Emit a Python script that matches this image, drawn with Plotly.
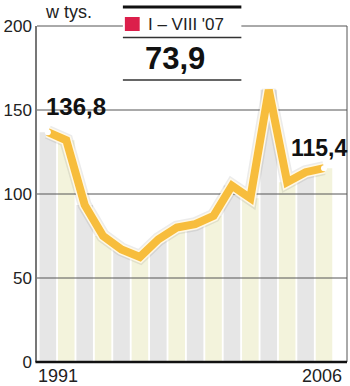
import plotly.graph_objects as go

years = list(range(1991, 2007))
values = [136.8, 132, 93.5, 75, 67, 62.5, 73, 80, 82, 87, 105, 97.5, 162, 107, 113, 115.4]
y_ticks = [0, 50, 100, 150, 200]
first_label = "136,8"
last_label = "115,4"
legend_label = "I – VIII '07"
legend_value = "73,9"
unit_label = "w tys."

W, H = 350, 386
L, R, T, B = 33, 3, 26, 24
PW, PH = W - L - R, H - T - B

def px(x):
    return (x - L) / PW

def py(y):
    return (H - B - y) / PH

idx = list(range(len(years)))
bar_colors = ["#e6e6e6" if i % 2 == 0 else "#f3f3dc" for i in idx]
xr = [-0.59, 16.25]

FONT = "Liberation Sans"
fig = go.Figure()
fig.add_trace(go.Bar(x=idx, y=values, marker=dict(color=bar_colors, line=dict(width=0)),
                     width=0.9, hoverinfo="skip"))
for v in y_ticks[1:-1]:
    fig.add_trace(go.Scatter(x=xr, y=[v, v], mode="lines",
                             line=dict(color="#555555", width=1), hoverinfo="skip"))
# shadow
fig.add_trace(go.Scatter(x=idx, y=values, mode="lines",
                         line=dict(color="rgba(0,0,0,0.08)", width=14), hoverinfo="skip"))
fig.add_trace(go.Scatter(x=idx, y=values, mode="lines",
                         line=dict(color="#fff8e6", width=11), hoverinfo="skip"))
fig.add_trace(go.Scatter(x=idx, y=values, mode="lines",
                         line=dict(color="#f7bd3c", width=8), hoverinfo="skip"))
fig.add_trace(go.Scatter(x=[idx[0], idx[-1]], y=[values[0], values[-1]], mode="markers",
                         marker=dict(color="white", size=6, line=dict(width=0)), hoverinfo="skip"))

shapes = [
    # top border at 200 & right border
    dict(type="line", xref="paper", yref="paper", x0=0, x1=1, y0=1, y1=1,
         line=dict(color="#555555", width=1), layer="above"),
    dict(type="line", xref="paper", yref="paper", x0=1, x1=1, y0=0, y1=1,
         line=dict(color="#555555", width=1), layer="above"),
    # legend box
    dict(type="rect", xref="paper", yref="paper", x0=px(120), x1=px(240), y0=py(80), y1=py(7),
         fillcolor="white", line=dict(width=0), layer="above"),
    dict(type="line", xref="paper", yref="paper", x0=px(120), x1=px(240), y0=py(7), y1=py(7),
         line=dict(color="#111111", width=3), layer="above"),
    dict(type="line", xref="paper", yref="paper", x0=px(120), x1=px(240), y0=py(37.5), y1=py(37.5),
         line=dict(color="#333333", width=1.5), layer="above"),
    dict(type="line", xref="paper", yref="paper", x0=px(120), x1=px(240), y0=py(80), y1=py(80),
         line=dict(color="#333333", width=1.5), layer="above"),
    dict(type="rect", xref="paper", yref="paper", x0=px(122), x1=px(137), y0=py(31), y1=py(17),
         fillcolor="#dc1f4b", line=dict(width=0), layer="above"),
]

ann = [
    dict(text=unit_label, xref="paper", yref="paper", x=px(39), y=py(12), xanchor="left",
         yanchor="middle", showarrow=False, font=dict(size=18, color="#222", family=FONT)),
    dict(text=legend_label, xref="paper", yref="paper", x=px(143), y=py(24), xanchor="left",
         yanchor="middle", showarrow=False, font=dict(size=17, color="#222", family=FONT)),
    dict(text="<b>" + legend_value + "</b>", xref="paper", yref="paper", x=px(140), y=py(59),
         xanchor="left", yanchor="middle", showarrow=False,
         font=dict(size=31, color="#111", family=FONT)),
    dict(text="<b>" + first_label + "</b>", xref="x", yref="y", x=idx[0], y=values[0],
         xanchor="left", yanchor="middle", xshift=-4, yshift=26, showarrow=False,
         font=dict(size=24, color="#111", family=FONT)),
    dict(text="<b>" + last_label + "</b>", xref="x", yref="y", x=idx[-1], y=values[-1],
         xanchor="right", yanchor="middle", xshift=25, yshift=20, showarrow=False,
         font=dict(size=23, color="#111", family=FONT)),
    dict(text=str(years[0]), xref="paper", yref="paper", x=px(32), y=py(376), xanchor="left",
         yanchor="middle", showarrow=False, font=dict(size=18, color="#222", family=FONT)),
    dict(text=str(years[-1]), xref="paper", yref="paper", x=px(344), y=py(376), xanchor="right",
         yanchor="middle", showarrow=False, font=dict(size=18, color="#222", family=FONT)),
]

fig.update_layout(
    width=W, height=H, margin=dict(l=L, r=R, t=T, b=B),
    paper_bgcolor="white", plot_bgcolor="white", showlegend=False,
    bargap=0.1, shapes=shapes, annotations=ann,
    xaxis=dict(range=xr, showgrid=False, showticklabels=False, zeroline=False,
               showline=False, fixedrange=True),
    yaxis=dict(range=[0, 200], tickvals=y_ticks, showgrid=False, zeroline=False,
               showline=True, linecolor="#777777", linewidth=1.5, ticks="",
               tickfont=dict(size=17, color="#222", family=FONT), fixedrange=True),
)
fig.add_shape(type="line", xref="paper", yref="paper", x0=-0.005, x1=1, y0=0, y1=0,
              line=dict(color="#111111", width=2.5), layer="above")

fig.write_html("out.html")
